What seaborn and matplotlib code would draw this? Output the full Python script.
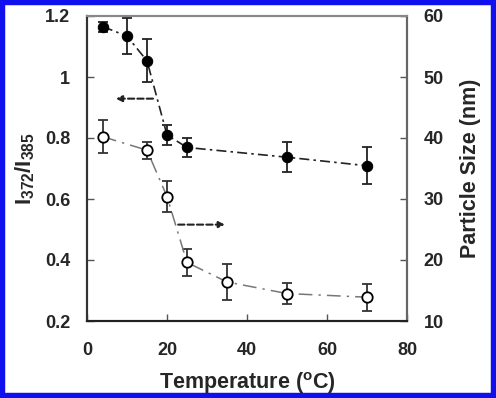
import numpy as np
import pandas as pd
import matplotlib
matplotlib.use('Agg')
import matplotlib.pyplot as plt
from matplotlib.patches import Rectangle
import seaborn as sns

# data
temp_ratio = [4, 10, 15, 20, 25, 50, 70]
ratio = [1.165, 1.134, 1.053, 0.81, 0.769, 0.737, 0.709]
ratio_err = [0.016, 0.06, 0.07, 0.033, 0.03, 0.05, 0.06]

temp_size = [4, 15, 20, 25, 35, 50, 70]
size_nm = [40.2, 38.0, 30.4, 19.6, 16.4, 14.5, 13.9]
size_err = [2.7, 1.4, 2.5, 2.2, 3.0, 1.75, 2.2]

sns.set_style('ticks')
plt.rcParams['font.family'] = ['Liberation Sans', 'DejaVu Sans']
plt.rcParams['mathtext.fontset'] = 'custom'
plt.rcParams['mathtext.rm'] = 'Liberation Sans:bold'
plt.rcParams['mathtext.it'] = 'Liberation Sans:bold'
plt.rcParams['mathtext.bf'] = 'Liberation Sans:bold'

df_r = pd.DataFrame({'T': temp_ratio, 'v': ratio})
df_s = pd.DataFrame({'T': temp_size, 'v': size_nm})

fig = plt.figure(figsize=(4.96, 3.98), dpi=100, facecolor='white')
ax = fig.add_axes([87 / 496, 1 - 321 / 398, 320 / 496, 305 / 398])
ax2 = ax.twinx()

# filled: ratio on left axis
ax.errorbar(temp_ratio, ratio, yerr=ratio_err, fmt='none', ecolor='#222222',
            elinewidth=1.3, capsize=3.3, capthick=1.3, zorder=2)
sns.lineplot(data=df_r, x='T', y='v', ax=ax, color='#222222', lw=1.2,
             linestyle=(0, (6, 2.5, 1.5, 2.5)), marker='o', markersize=7.5,
             markerfacecolor='black', markeredgecolor='black', zorder=3)

# open: particle size on right axis
ax2.errorbar(temp_size, size_nm, yerr=size_err, fmt='none', ecolor='#333333',
             elinewidth=1.3, capsize=3.3, capthick=1.3, zorder=2)
sns.lineplot(data=df_s, x='T', y='v', ax=ax2, color='#777777', lw=1.1,
             linestyle=(0, (9, 4, 1.5, 4)), marker='o', markersize=7.5,
             markerfacecolor='white', markeredgecolor='black', markeredgewidth=1.3,
             zorder=3)

# dashed arrows
ax.annotate('', xy=(7.2, 0.929), xytext=(16.5, 0.929),
            arrowprops=dict(arrowstyle='-|>', linestyle=(0, (3, 1.5)), lw=1.5,
                            color='#222222', mutation_scale=9, shrinkA=0, shrinkB=0))
ax2.annotate('', xy=(34.5, 25.8), xytext=(22.8, 25.8),
             arrowprops=dict(arrowstyle='-|>', linestyle=(0, (3, 1.5)), lw=1.5,
                             color='#222222', mutation_scale=9, shrinkA=0, shrinkB=0))

ax.set_xlim(0, 80)
ax.set_ylim(0.2, 1.2)
ax2.set_ylim(10, 60)
ax.set_xticks([0, 20, 40, 60, 80])
ax.set_yticks([0.2, 0.4, 0.6, 0.8, 1.0, 1.2])
ax.set_yticklabels(['0.2', '0.4', '0.6', '0.8', '1', '1.2'])
ax2.set_yticks([10, 20, 30, 40, 50, 60])

for a in (ax, ax2):
    a.tick_params(direction='in', length=5, width=1, color='#555555',
                  labelsize=13, pad=12)
    a.tick_params(axis='x', pad=15)
    for lab in a.get_xticklabels() + a.get_yticklabels():
        lab.set_fontweight('bold')
    a.set_xlabel('')
    a.set_ylabel('')

for a in (ax, ax2):
    a.spines['top'].set_color('#888888')
    a.spines['right'].set_color('#666666')
    a.spines['left'].set_color('#333333')
    a.spines['bottom'].set_color('#222222')
    for s in a.spines.values():
        s.set_visible(True)
        s.set_linewidth(1.5)

ax.set_xlabel('Temperature ($^{o}$C)', fontsize=15.5, fontweight='bold', labelpad=8)
ax.set_ylabel('I$_{372}$/I$_{385}$', fontsize=16, fontweight='bold', labelpad=6)
ax2.set_ylabel('Particle Size (nm)', fontsize=15.5, fontweight='bold', labelpad=12)

fig.add_artist(Rectangle((0, 0), 1, 1, transform=fig.transFigure, fill=False,
                         edgecolor='#1010ee', lw=7.5))

fig.savefig('out.png', dpi=100, facecolor='white')
plt.close()
